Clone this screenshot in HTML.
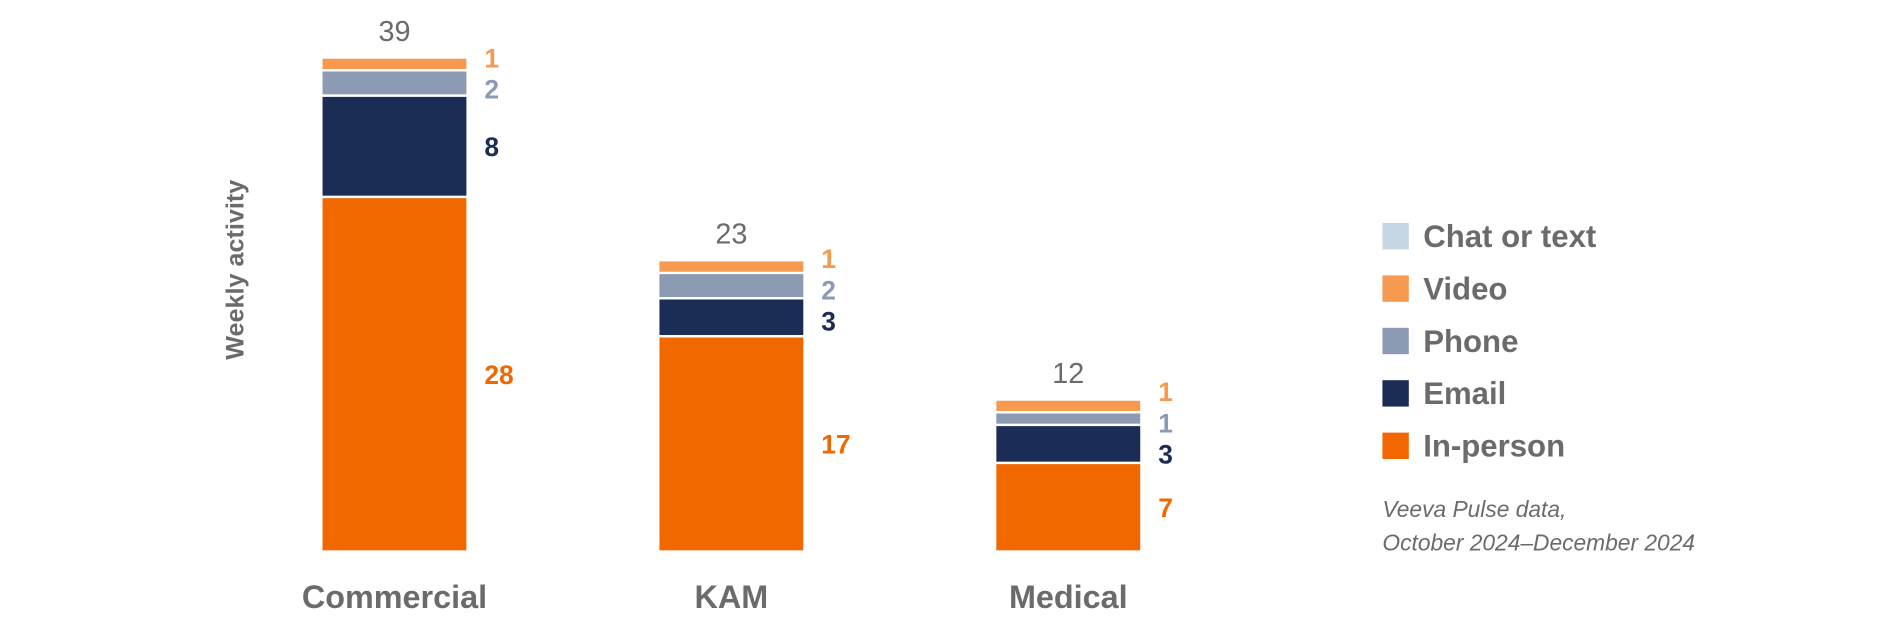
<!DOCTYPE html>
<html><head><meta charset="utf-8"><style>
body{margin:0;background:#fff;}
svg text{font-family:"Liberation Sans Narrow","Liberation Sans",sans-serif;}
</style></head><body>
<svg id="chart" width="1880" height="623" viewBox="0 0 1568 519.6" xmlns="http://www.w3.org/2000/svg">
<text transform="translate(203,225) rotate(-90)" text-anchor="middle" font-size="21" font-weight="bold" fill="#6b6b6b">Weekly activity</text>
<g id="bars"></g>
<g id="legend"></g>
<text x="1153" y="431" font-size="19" font-style="italic" fill="#6b6b6b">Veeva Pulse data,</text>
<text x="1153" y="459" font-size="19" font-style="italic" fill="#6b6b6b">October 2024–December 2024</text>
</svg>
<script>
const categories = ["Commercial","KAM","Medical"];
const seriesNames = ["In-person","Email","Phone","Video","Chat or text"];
const inPerson = [28,17,7];
const email = [8,3,3];
const phone = [2,2,1];
const video = [1,1,1];
const chat = [0,0,0];
const totals = [39,23,12];

const colors = ["#F26800","#1B2D54","#8C9AB4","#F7994F","#C5D5E2"];
const series = [inPerson,email,phone,video,chat];
const baseY = 460, pxPerUnit = 412/39;
const y = v => baseY - v*pxPerUnit;
const x0 = 268, step = 281, bw = 122;
const xPos = i => x0 + i*step;
const GAP = 26;
const NS = "http://www.w3.org/2000/svg";
const g = document.getElementById("bars");
function mk(tag, attrs, parent){const e=document.createElementNS(NS,tag);for(const k in attrs)e.setAttribute(k,attrs[k]);parent.appendChild(e);return e;}

function spread(mids){
  // mids sorted ascending (top to bottom); cluster overlapping labels
  let groups = mids.map(m=>({items:[m],center:m}));
  let changed=true;
  const pos = gr => gr.items.map((_,k)=>gr.center+(k-(gr.items.length-1)/2)*GAP);
  while(changed){
    changed=false;
    for(let k=0;k<groups.length-1;k++){
      const a=pos(groups[k]), b=pos(groups[k+1]);
      if(b[0]-a[a.length-1] < GAP){
        const items=groups[k].items.concat(groups[k+1].items);
        const c=items.reduce((s,v)=>s+v,0)/items.length;
        groups.splice(k,2,{items:items,center:c});
        changed=true;break;
      }
    }
  }
  let out=[];groups.forEach(gr=>out=out.concat(pos(gr)));return out;
}

categories.forEach((c,i)=>{
  let cum=0;
  const xb=xPos(i);
  const labels=[];
  series.forEach((s,si)=>{
    const v=s[i];
    if(v<=0) return;
    const r=mk("rect",{x:xb,y:y(cum+v),width:bw,height:v*pxPerUnit,fill:colors[si],stroke:"#fff","stroke-width":2},g);
    
    
    labels.push({si:si,v:v,mid:y(cum+v/2)});
    cum+=v;
  });
  labels.reverse();
  const ys=spread(labels.map(l=>l.mid));
  labels.forEach((l,k)=>{
    const t=mk("text",{x:xb+bw+14,y:ys[k]+8,"font-size":22,"font-weight":"bold",fill:colors[l.si]},g);
    t.textContent=l.v;
    
    
  });
  const tt=mk("text",{x:xb+bw/2,y:y(totals[i])-14,"text-anchor":"middle","font-size":24,fill:"#6b6b6b"},g);
  tt.textContent=totals[i];
  
  
  const cl=mk("text",{x:xb+bw/2,y:507,"text-anchor":"middle","font-size":27,"font-weight":"bold",fill:"#6b6b6b"},g);
  cl.textContent=c;
  
  
});

const lg=document.getElementById("legend");
const legendOrder=[4,3,2,1,0];
legendOrder.forEach((si,k)=>{
  const yy=186+k*43.7;
  const sw=mk("rect",{x:1153,y:yy,width:22,height:22,fill:colors[si]},lg);
  
  
  const t=mk("text",{x:1187,y:yy+20,"font-size":26,"font-weight":"bold",fill:"#6b6b6b"},lg);
  t.textContent=seriesNames[si];
  
  
});
</script>
</body></html>
